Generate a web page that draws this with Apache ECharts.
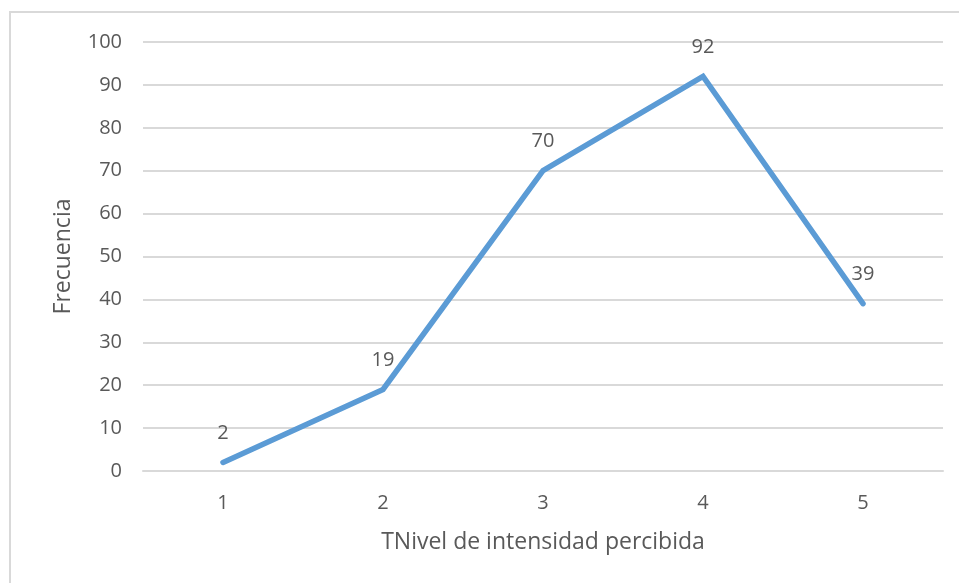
<!DOCTYPE html>
<html>
<head>
<meta charset="utf-8">
<script src="https://cdn.jsdelivr.net/npm/echarts@6/dist/echarts.min.js"></script>
<style>
  html, body { margin: 0; padding: 0; background: #fff; }
  #chart { width: 959px; height: 583px; }
</style>
</head>
<body>
<div id="chart"></div>
<script>
// Frequency by perceived intensity level
const categories = ['1', '2', '3', '4', '5'];
const frequencies = [2, 19, 70, 92, 39];
const yTicks = { min: 0, max: 100, interval: 10 };

const font = '"Open Sans", "Noto Sans", sans-serif';
const textColor = '#595959';
const gridColor = '#d9d9d9';

const chart = echarts.init(document.getElementById('chart'));
chart.setOption({
  animation: false,
  backgroundColor: '#fff',
  graphic: [{
    type: 'rect',
    shape: { x: 10, y: 12, width: 1000, height: 700 },
    style: { fill: 'none', stroke: gridColor, lineWidth: 2 },
    silent: true
  }],
  grid: { left: 143, right: 16, top: 42, bottom: 112 },
  xAxis: {
    type: 'category',
    data: categories,
    boundaryGap: true,
    name: 'TNivel de intensidad percibida',
    nameLocation: 'middle',
    nameGap: 60,
    nameTextStyle: { color: textColor, fontFamily: font, fontSize: 23 },
    axisLine: { show: true, lineStyle: { color: gridColor, width: 2 } },
    axisTick: { show: false },
    axisLabel: { color: textColor, fontFamily: font, fontSize: 20, margin: 22 }
  },
  yAxis: {
    type: 'value',
    min: yTicks.min,
    max: yTicks.max,
    interval: yTicks.interval,
    name: 'Frecuencia',
    nameLocation: 'middle',
    nameGap: 68,
    nameRotate: 90,
    nameTextStyle: { color: textColor, fontFamily: font, fontSize: 23 },
    axisLine: { show: false },
    axisTick: { show: false },
    axisLabel: { color: textColor, fontFamily: font, fontSize: 20, margin: 21 },
    splitLine: { lineStyle: { color: gridColor, width: 2 } }
  },
  series: [{
    type: 'line',
    data: frequencies,
    symbol: 'circle',
    symbolSize: 2,
    showSymbol: true,
    itemStyle: { color: 'rgba(0,0,0,0)', borderWidth: 0 },
    lineStyle: { color: '#5b9bd5', width: 5.5, cap: 'round', join: 'miter' },
    label: {
      show: true,
      position: 'top',
      distance: 18,
      color: textColor,
      fontFamily: font,
      fontSize: 20
    }
  }]
});
</script>
</body>
</html>
